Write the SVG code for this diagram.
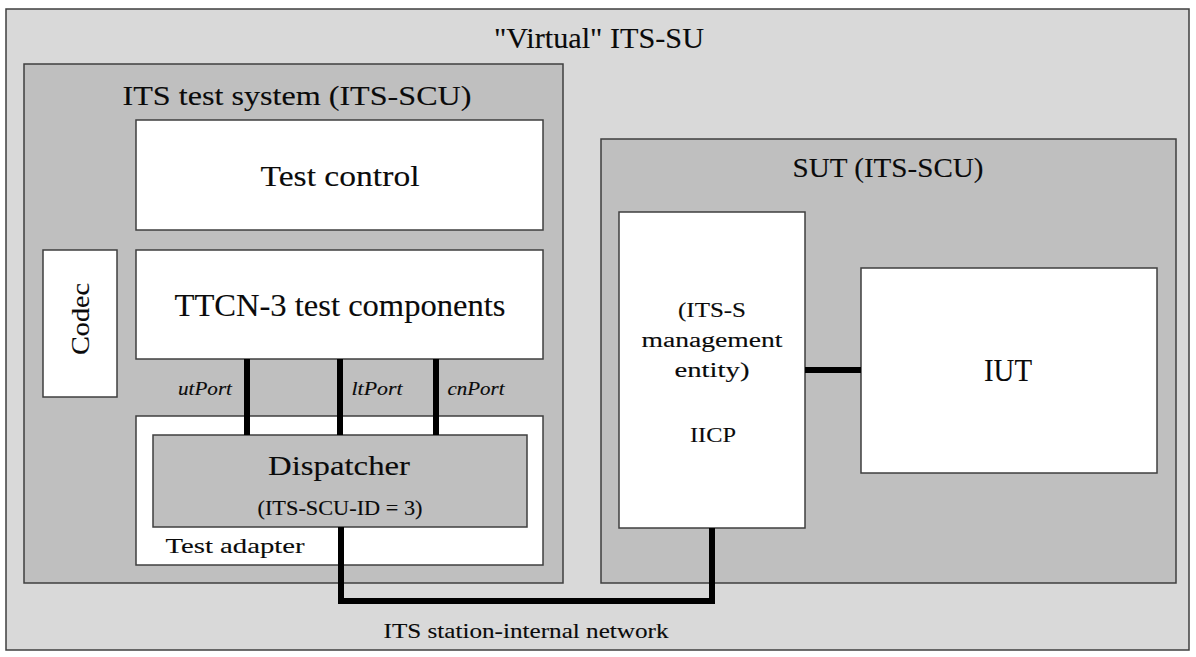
<svg xmlns="http://www.w3.org/2000/svg" width="1196" height="657" viewBox="0 0 1196 657">
<style>
.box{stroke:#3f3f3f;stroke-width:1.5}
.outer{fill:#d9d9d9}
.grey{fill:#bfbfbf}
.white{fill:#ffffff}
text{font-family:"Liberation Serif","Times New Roman",serif;fill:#0a0a0a;stroke:#0a0a0a;stroke-width:0.12;text-anchor:middle}
.it{font-style:italic}
.wire{stroke:#000;stroke-width:6;fill:none;stroke-linecap:butt}
</style>
<rect width="1196" height="657" fill="#ffffff"/>
<g id="virtual-its-su">
<rect class="box outer" x="6" y="9" width="1183" height="641"/>
<text x="599" y="48" font-size="29" textLength="210" lengthAdjust="spacingAndGlyphs">"Virtual" ITS-SU</text>
</g>
<g id="its-test-system">
<rect class="box grey" x="24" y="64" width="539" height="519"/>
<text x="297" y="105" font-size="28" textLength="349" lengthAdjust="spacingAndGlyphs">ITS test system (ITS-SCU)</text>
</g>
<g id="test-control">
<rect class="box white" x="136" y="120" width="407" height="110"/>
<text x="340" y="186" font-size="30" textLength="159" lengthAdjust="spacingAndGlyphs">Test control</text>
</g>
<g id="ttcn3-components">
<rect class="box white" x="136" y="250" width="407" height="109"/>
<text x="340" y="316" font-size="31" textLength="331" lengthAdjust="spacingAndGlyphs">TTCN-3 test components</text>
</g>
<g id="codec">
<rect class="box white" x="43" y="250" width="74" height="147"/>
<text transform="translate(89,319) rotate(-90)" x="0" y="0" font-size="26" textLength="72" lengthAdjust="spacingAndGlyphs">Codec</text>
</g>
<g id="test-adapter">
<rect class="box white" x="136" y="416" width="407" height="149"/>
<text x="235" y="553" font-size="21" textLength="139" lengthAdjust="spacingAndGlyphs">Test adapter</text>
</g>
<g id="dispatcher">
<rect class="box grey" x="153" y="435" width="374" height="92"/>
<text x="339" y="475" font-size="27" textLength="142" lengthAdjust="spacingAndGlyphs">Dispatcher</text>
<text x="340" y="515" font-size="20" textLength="165" lengthAdjust="spacingAndGlyphs">(ITS-SCU-ID = 3)</text>
</g>
<g id="sut">
<rect class="box grey" x="601" y="139" width="575" height="444"/>
<text x="888" y="177" font-size="28" textLength="191" lengthAdjust="spacingAndGlyphs">SUT (ITS-SCU)</text>
</g>
<g id="management-entity">
<rect class="box white" x="619" y="212" width="186" height="316"/>
<text x="712" y="317" font-size="20" textLength="68" lengthAdjust="spacingAndGlyphs">(ITS-S</text>
<text x="712" y="347" font-size="20" textLength="141" lengthAdjust="spacingAndGlyphs">management</text>
<text x="712" y="377" font-size="20" textLength="75" lengthAdjust="spacingAndGlyphs">entity)</text>
<text x="713" y="442" font-size="22" textLength="46" lengthAdjust="spacingAndGlyphs">IICP</text>
</g>
<g id="iut">
<rect class="box white" x="861" y="268" width="296" height="205"/>
<text x="1008" y="381" font-size="31" textLength="48" lengthAdjust="spacingAndGlyphs">IUT</text>
</g>
<g id="connectors">
<line class="wire" x1="247" y1="359" x2="247" y2="435"/>
<line class="wire" x1="340" y1="359" x2="340" y2="435"/>
<line class="wire" x1="436" y1="359" x2="436" y2="435"/>
<line class="wire" x1="805" y1="370" x2="861" y2="370"/>
<polyline class="wire" points="341,527 341,601 712,601 712,528"/>
<text class="it" x="205" y="395" font-size="18" textLength="54" lengthAdjust="spacingAndGlyphs">utPort</text>
<text class="it" x="377" y="395" font-size="18" textLength="51" lengthAdjust="spacingAndGlyphs">ltPort</text>
<text class="it" x="476" y="395" font-size="18" textLength="57" lengthAdjust="spacingAndGlyphs">cnPort</text>
<text x="526" y="638" font-size="22" textLength="285" lengthAdjust="spacingAndGlyphs">ITS station-internal network</text>
</g>
</svg>
